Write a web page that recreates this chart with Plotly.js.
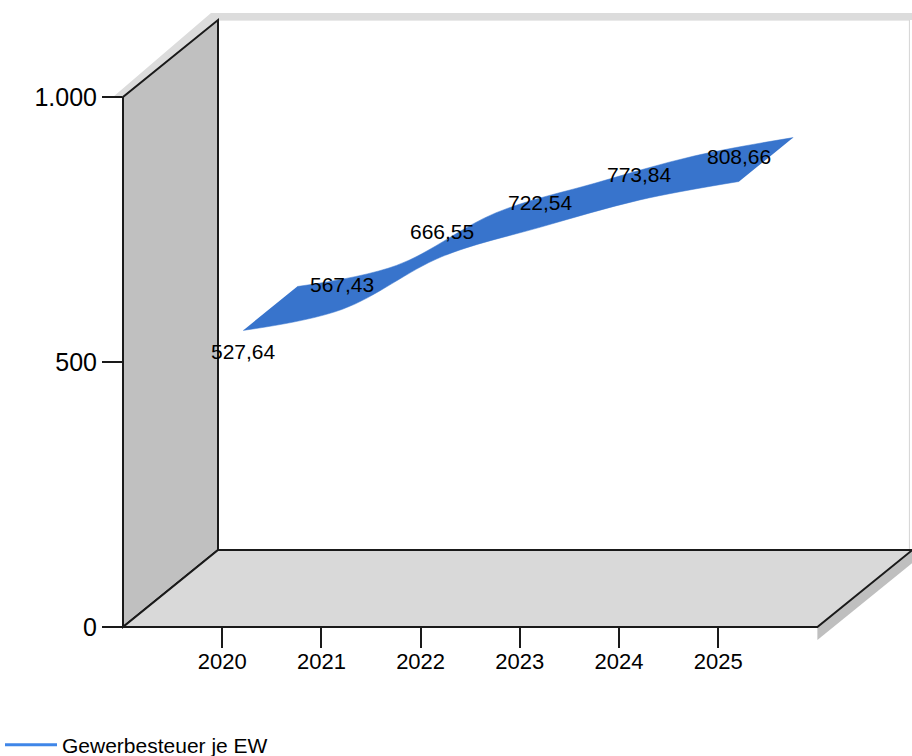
<!DOCTYPE html>
<html><head><meta charset="utf-8">
<script src="https://cdn.plot.ly/plotly-3.0.1.min.js"></script>
<style>html,body{margin:0;padding:0;background:#fff}#chart{width:912px;height:756px}</style>
</head><body><div id="chart"></div>
<script>
// ---- data ----
const categories = ['2020', '2021', '2022', '2023', '2024', '2025'];
const values = [527.64, 567.43, 666.55, 722.54, 773.84, 808.66];
const seriesName = 'Gewerbesteuer je EW';
const yTickVals = [0, 500, 1000];

// ---- geometry / style ----
const W = 912, H = 756, L = 123, T = 10, PW = 789, PH = 617;
const PX_PER_CAT = 99.2, PX_PER_UNIT = 0.53;
const xMin = -1, xMax = xMin + PW / PX_PER_CAT;
const yMin = 0, yMax = PH / PX_PER_UNIT;
const DX = 95 / PX_PER_CAT, DY = 77 / PX_PER_UNIT;   // depth vector in data units
const D0 = 0.22, D1 = 0.79;                         // ribbon front/back depth
const FONT = 'Liberation Sans, Arial, sans-serif';
const RIBBON = '#3874cc';

const idx = categories.map((c, i) => i);
const xF = idx.map(i => i + D0 * DX), yF = values.map(v => v + D0 * DY);
const xB = idx.map(i => i + D1 * DX), yB = values.map(v => v + D1 * DY);

const xL = xMin, xR = categories.length, yTop = Math.max(...yTickVals);
function pxr(x) { return (x - xMin) / (xMax - xMin); }
function pyr(y) { return (y - yMin) / (yMax - yMin); }
function poly(pts, fill, lineColor, lw) {
  return {
    type: 'path', xref: 'paper', yref: 'paper', layer: 'below',
    path: 'M' + pts.map(p => pxr(p[0]).toFixed(5) + ',' + pyr(p[1]).toFixed(5)).join('L') + 'Z',
    fillcolor: fill, line: { color: lineColor, width: lw }
  };
}
const band = 13 / PX_PER_UNIT;
const shapes = [
  poly([[xL + DX, DY], [xR + DX - 3 / PX_PER_CAT, DY], [xR + DX - 3 / PX_PER_CAT, yTop + DY], [xL + DX, yTop + DY]], '#ffffff', '#d4d4d4', 1),
  poly([[xL - 10 / PX_PER_CAT, yTop], [xL, yTop], [xL + DX, yTop + DY], [xR + DX, yTop + DY],
        [xR + DX, yTop + DY + 7 / PX_PER_UNIT], [xL + DX - 7 / PX_PER_CAT, yTop + DY + 7 / PX_PER_UNIT]], '#dcdcdc', 'rgba(0,0,0,0)', 0),
  poly([[xR, 0], [xR + DX, DY], [xR + DX, DY - band], [xR, -band]], '#bfbfbf', 'rgba(0,0,0,0)', 0),
  poly([[xL, 0], [xL, yTop], [xL + DX, yTop + DY], [xL + DX, DY]], '#c0c0c0', '#1a1a1a', 2),
  poly([[xL, 0], [xR, 0], [xR + DX, DY], [xL + DX, DY]], '#d9d9d9', '#1a1a1a', 2)
];

function fmt(v) { return v.toFixed(2).replace('.', ','); }
const annotations = values.map((v, i) => ({
  x: xF[i], y: yF[i], xref: 'x', yref: 'y', text: fmt(v), showarrow: false,
  xanchor: 'center', yanchor: 'middle', yshift: i === 0 ? -21 : 25,
  font: { family: FONT, size: 21, color: '#000' }
}));

const traces = [
  { x: xF, y: yF, mode: 'lines', line: { shape: 'spline', color: RIBBON, width: 0.5 }, showlegend: false, hoverinfo: 'skip' },
  { x: xB, y: yB, mode: 'lines', fill: 'tonexty', fillcolor: RIBBON, line: { shape: 'spline', color: RIBBON, width: 0.5 }, showlegend: false, hoverinfo: 'skip' },
  { x: [null], y: [null], mode: 'lines', name: seriesName, line: { color: '#3f86e8', width: 3 }, showlegend: true }
];

const layout = {
  width: W, height: H, autosize: false,
  margin: { l: L, r: W - L - PW, t: T, b: H - T - PH, pad: 0, autoexpand: false },
  paper_bgcolor: '#ffffff', plot_bgcolor: 'rgba(0,0,0,0)',
  separators: ',.',
  font: { family: FONT, color: '#000' },
  xaxis: {
    range: [xMin, xMax], tickvals: idx, ticktext: categories,
    showgrid: false, zeroline: false, showline: false,
    ticks: 'outside', ticklen: 20, tickwidth: 2, tickcolor: '#1a1a1a', ticklabelstandoff: -5,
    tickfont: { family: FONT, size: 22, color: '#000' }, fixedrange: true
  },
  yaxis: {
    range: [yMin, yMax], tickvals: yTickVals, tickformat: ',',
    showgrid: false, zeroline: false, showline: false,
    ticks: 'outside', ticklen: 20, tickwidth: 2, tickcolor: '#1a1a1a',
    tickfont: { family: FONT, size: 25, color: '#000' }, fixedrange: true
  },
  shapes: shapes,
  annotations: annotations,
  showlegend: true,
  legend: {
    xref: 'container', yref: 'container', x: 0, y: 11 / H, xanchor: 'left', yanchor: 'middle',
    bgcolor: 'rgba(0,0,0,0)', itemwidth: 52,
    font: { family: FONT, size: 21, color: '#000' }
  }
};

Plotly.newPlot('chart', traces, layout, { displayModeBar: false, staticPlot: true });
</script>
</body></html>
